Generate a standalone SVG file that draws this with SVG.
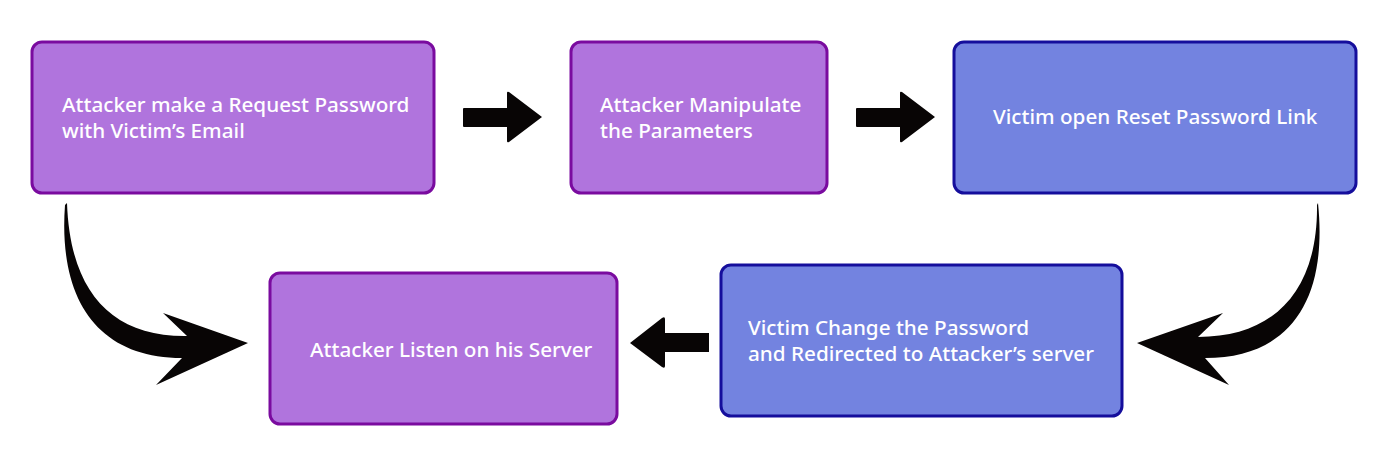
<svg xmlns="http://www.w3.org/2000/svg" width="1391" height="458" viewBox="0 0 1391 458">
<style>
.p{fill:#b074dd;stroke:#7a0b9f;stroke-width:3}
.b{fill:#7383e0;stroke:#150e9c;stroke-width:3}
.t{font-family:"Noto Sans","Open Sans",sans-serif;font-size:20.7px;font-weight:500;fill:#ffffff}
.a{fill:#080505}
</style>
<rect width="1391" height="458" fill="#ffffff"/>
<g id="n1"><rect class="p" x="32" y="42" width="402" height="151" rx="10"/>
<text class="t" x="62" y="112">Attacker make a Request Password</text>
<text class="t" x="62" y="138">with Victim’s Email</text></g>
<g id="n2"><rect class="p" x="571" y="42" width="256" height="151" rx="10"/>
<text class="t" x="600" y="112">Attacker Manipulate</text>
<text class="t" x="600" y="138">the Parameters</text></g>
<g id="n3"><rect class="b" x="954" y="42" width="402" height="151" rx="10"/>
<text class="t" x="993" y="124">Victim open Reset Password Link</text></g>
<g id="n4"><rect class="p" x="270" y="273" width="347" height="151" rx="10"/>
<text class="t" x="310" y="357">Attacker Listen on his Server</text></g>
<g id="n5"><rect class="b" x="721" y="265" width="401" height="151" rx="10"/>
<text class="t" x="748" y="335">Victim Change the Password</text>
<text class="t" x="748" y="361">and Redirected to Attacker’s server</text></g>
<g id="connectors">
<path class="a" d="M463,109 Q463,108 464,108 L507,108 L507,93 Q507,91 509,92 L542,117 L509,142 Q507,143 507,141 L507,127 L464,127 Q463,127 463,126 Z"/>
<path class="a" d="M856,109 Q856,108 857,108 L900,108 L900,93 Q900,91 902,92 L935,117 L902,142 Q900,143 900,141 L900,127 L857,127 Q856,127 856,126 Z"/>
<path class="a" d="M709,333 L709,352 L665,352 L665,366 Q665,369 662,367 L630,343 L662,318 Q665,316 665,319 L665,333 Z"/>
<path class="a" d="M67,203 C70,290 110,337 187,336 L163,313 L248,343 L156,385 L182,358 C98,358 58,300 65,205 Z"/>
<path class="a" d="M1318,203 C1328,300 1290,358 1205,358 L1229,385 L1137,343 L1223,313 L1198,337 C1275,337 1318,290 1317,205 Z"/>
</g>
</svg>
